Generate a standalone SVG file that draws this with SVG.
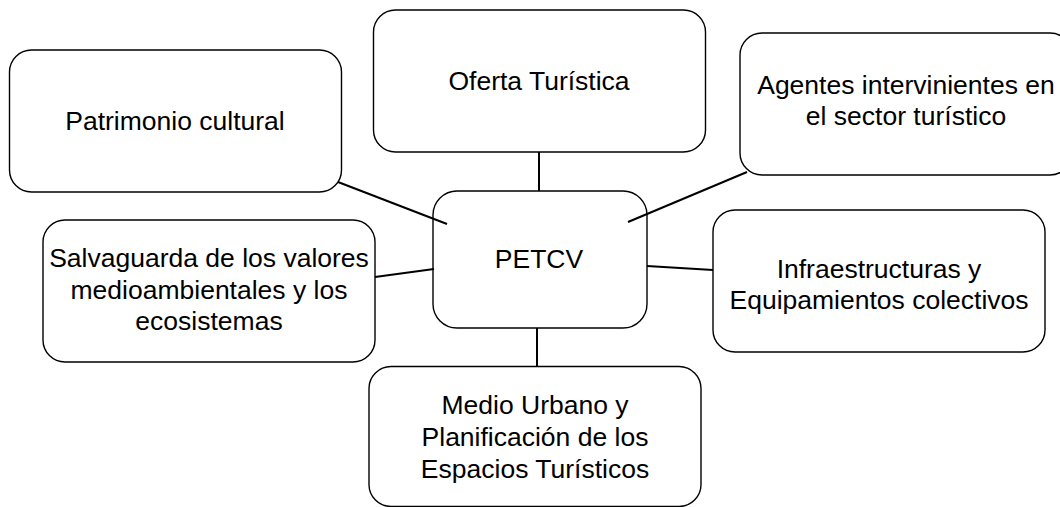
<svg xmlns="http://www.w3.org/2000/svg" width="1060" height="507" viewBox="0 0 1060 507">
<style>
.box{fill:#fff;stroke:#000;stroke-width:1.4}
.lbl{font-family:"Liberation Sans",Arial,sans-serif;font-size:26.5px;fill:#000;text-anchor:middle}
.con{stroke:#000;stroke-width:2;fill:none}
</style>
<rect width="1060" height="507" fill="#fff"/>
<g id="node-petcv">
<rect class="box" x="433" y="191" width="214" height="137" rx="24"/>
<text class="lbl" x="539" y="268">PETCV</text>
</g>
<g id="node-patrimonio">
<rect class="box" x="9.5" y="50" width="332" height="142" rx="22"/>
<text class="lbl" x="175" y="130">Patrimonio cultural</text>
</g>
<g id="node-oferta">
<rect class="box" x="373.5" y="10" width="332" height="142" rx="22"/>
<text class="lbl" x="539" y="90">Oferta Turística</text>
</g>
<g id="node-agentes">
<rect class="box" x="740" y="33" width="332" height="142" rx="22"/>
<text class="lbl" x="906" y="94">Agentes intervinientes en</text>
<text class="lbl" x="906" y="125">el sector turístico</text>
</g>
<g id="node-salvaguarda">
<rect class="box" x="43" y="220" width="332" height="142" rx="22"/>
<text class="lbl" x="209" y="267">Salvaguarda de los valores</text>
<text class="lbl" x="209" y="298.5">medioambientales y los</text>
<text class="lbl" x="209" y="330">ecosistemas</text>
</g>
<g id="node-infra">
<rect class="box" x="713" y="210" width="332" height="142" rx="22"/>
<text class="lbl" x="879" y="278">Infraestructuras y</text>
<text class="lbl" x="879" y="309">Equipamientos colectivos</text>
</g>
<g id="node-medio">
<rect class="box" x="369" y="366.5" width="332" height="140" rx="22"/>
<text class="lbl" x="535" y="414">Medio Urbano y</text>
<text class="lbl" x="535" y="446">Planificación de los</text>
<text class="lbl" x="535" y="478">Espacios Turísticos</text>
</g>
<g id="connectors">
<line class="con" x1="539" y1="152" x2="539" y2="191"/>
<line class="con" x1="338" y1="182" x2="447" y2="224"/>
<line class="con" x1="747" y1="172" x2="628" y2="222"/>
<line class="con" x1="375" y1="277" x2="434" y2="269"/>
<line class="con" x1="647" y1="266" x2="713" y2="270"/>
<line class="con" x1="537" y1="328" x2="537" y2="366.5"/>
</g>
</svg>
